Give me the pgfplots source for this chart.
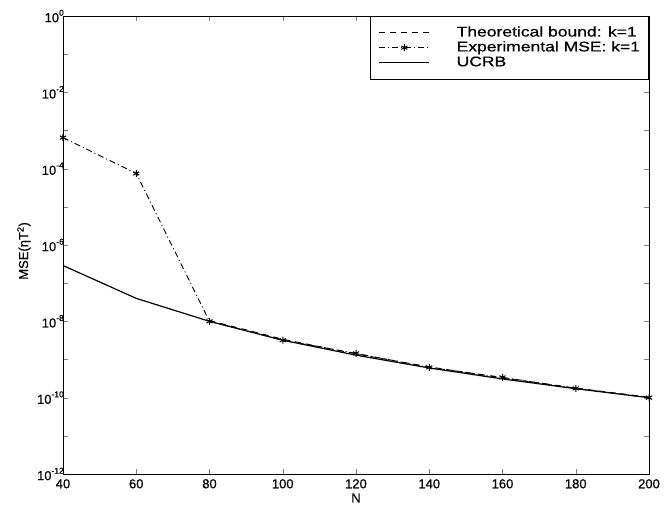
\documentclass[border=0pt]{standalone}
\usepackage{fontspec}
\setmainfont{Liberation Sans}[FakeBold=0.6]
\newfontfamily\legfont{Liberation Sans}[FakeStretch=1.25,FakeBold=0.6]
\usepackage{pgfplots}
\pgfplotsset{compat=1.18}
\newcommand\ee[1]{10\raisebox{0.5em}{\fontsize{8.5}{8.5}\selectfont #1}}
\begin{document}
\begin{tikzpicture}
\begin{pgfinterruptboundingbox}
\begin{axis}[
  scale only axis, width=586pt, height=458pt,
  at={(0,0)}, anchor=south west,
  xmin=40, xmax=200, ymode=log, ymin=1e-12, ymax=1,
  xtick={40,60,80,100,120,140,160,180,200},
  ytick={1,1e-1,1e-2,1e-3,1e-4,1e-5,1e-6,1e-7,1e-8,1e-9,1e-10,1e-11,1e-12},
  yticklabels={\ee{0},{},\ee{-2},{},\ee{-4},{},\ee{-6},{},\ee{-8},{},\ee{-10},{},\ee{-12}},
  yminorticks=false,
  xtick pos=both, ytick pos=both, tick align=inside,
  major tick length=5pt,
  /pgf/number format/assume math mode=true,
  font=\fontsize{13}{15}\selectfont,
  yticklabel style={inner xsep=2pt, xshift=3pt},
  xticklabel style={inner ysep=2pt, yshift=-3pt},
  xlabel={N}, ylabel={MSE(ηT\textsuperscript{2})},
  xlabel style={at={(axis description cs:0.5,0)}, anchor=center, yshift=-24pt},
  ylabel style={at={([xshift=-39pt]axis description cs:0,0.487)}, anchor=center},
  axis line style={line width=0.8pt},
  legend style={at={(1,1)}, anchor=north east, draw=black, line width=0.6pt,
     font=\legfont\fontsize{14}{14.5}\selectfont, row sep=0pt, inner xsep=8pt, inner ysep=9pt,
     nodes={inner sep=0.7pt, text height=10.5pt, text depth=3pt},
     cells={anchor=west},
     /tikz/every odd column/.append style={column sep=26pt}},
  legend image code/.code={\draw[mark repeat=2,mark phase=2,#1] plot coordinates {(0pt,0pt) (25pt,0pt) (50pt,0pt)};},
]
\addplot[black, line width=0.9pt, dash pattern=on 6pt off 5pt] coordinates {
 (80,1.05e-8) (100,3.4e-9) (120,1.4e-9) (140,6.4e-10) (160,3.3e-10) (180,1.78e-10) (200,1.03e-10)};
\addlegendentry{Theoretical bound: k=1}
\addplot[black, line width=0.9pt, dash pattern=on 6pt off 3pt on 1pt off 3pt, mark=asterisk, mark size=3.5pt, mark options={solid, line width=1pt}] coordinates {
 (40,6.5e-4) (60,7.5e-5) (80,1.0e-8) (100,3.2e-9) (120,1.45e-9) (140,6.2e-10) (160,3.4e-10) (180,1.75e-10) (200,1.0e-10)};
\addlegendentry{Experimental MSE: k=1}
\addplot[black, line width=1.2pt] coordinates {
 (40,2.9e-7) (60,4.0e-8) (80,1.0e-8) (100,3.2e-9) (120,1.3e-9) (140,6.0e-10) (160,3.1e-10) (180,1.72e-10) (200,1.0e-10)};
\addlegendentry{UCRB}
\end{axis}
\end{pgfinterruptboundingbox}
\path (-63pt,-34pt) rectangle (609pt,474pt);
\end{tikzpicture}
\end{document}
